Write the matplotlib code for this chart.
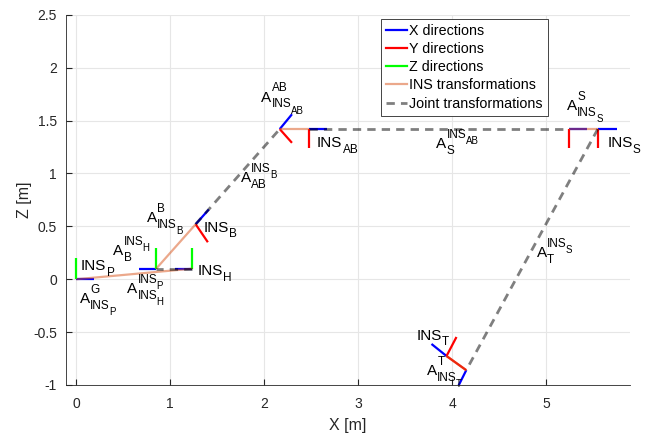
import matplotlib
matplotlib.use("Agg")
import matplotlib.pyplot as plt
from matplotlib.lines import Line2D

plt.rcParams['font.family'] = ['Liberation Sans', 'DejaVu Sans']

# frame origins in the X-Z plane
frame_names = ["INS_P", "B", "INS_H", "INS_B", "AB", "INS_AB", "S", "INS_S", "T", "INS_T"]
frame_x = [0.0, 0.85, 1.235, 1.27, 2.165, 2.48, 5.24, 5.55, 4.15, 3.94]
frame_z = [0.0, 0.10, 0.10, 0.52, 1.42, 1.42, 1.42, 1.42, -0.86, -0.726]
# projected axis directions (X axis, Y axis, Z axis)
ax_x = [(0.19, 0.0), (-0.18, 0.0), (-0.19, 0.0), (0.14, 0.14), (0.13, 0.14),
        (0.19, 0.0), (0.19, 0.0), (0.2, 0.0), (-0.09, -0.16), (-0.16, 0.114)]
ax_y = [(0.0, 0.0), (0.0, 0.0), (0.0, 0.0), (0.13, -0.17), (0.13, -0.13),
        (0.0, -0.18), (0.0, -0.18), (0.0, -0.18), (-0.21, 0.134), (0.106, 0.18)]
ax_z = [(0.0, 0.2), (0.0, 0.2), (0.0, 0.2), (0.0, 0.0), (0.0, 0.0),
        (0.0, 0.0), (0.0, 0.0), (0.0, 0.0), (0.0, 0.0), (0.0, 0.0)]

ins_links = [("INS_P", "INS_H"), ("B", "INS_B"), ("AB", "INS_AB"), ("S", "INS_S"), ("T", "INS_T")]
joint_links = [("INS_H", "B"), ("INS_B", "AB"), ("INS_AB", "S"), ("INS_S", "T")]

# labels: base, superscript (+ its subscript), subscript (+ its subscript)
label_base = ["INS", "A", "A", "A", "INS", "A", "INS", "A", "A", "INS", "A", "A", "INS", "A", "INS", "A"]
label_sup = ["", "G", "INS", "INS", "", "B", "", "INS", "AB", "", "INS", "S", "", "INS", "", "T"]
label_sup_sub = ["", "", "H", "P", "", "", "", "B", "", "", "AB", "", "", "S", "", ""]
label_sub = ["P", "INS", "B", "INS", "H", "INS", "B", "AB", "INS", "AB", "S", "INS", "S", "T", "T", "INS"]
label_sub_sub = ["", "P", "", "H", "", "B", "", "", "AB", "", "", "S", "", "", "", "T"]
label_x = [0.048, 0.037, 0.39, 0.54, 1.29, 0.75, 1.35, 1.75,
           1.97, 2.56, 3.83, 5.22, 5.65, 4.90, 3.62, 3.73]
label_z = [0.088, -0.224, 0.23, -0.13, 0.04, 0.54, 0.45, 0.92,
           1.68, 1.25, 1.24, 1.60, 1.25, 0.21, -0.57, -0.905]

fig = plt.figure(figsize=(6.54, 4.37), dpi=100)
ax = fig.add_axes([0.1009, 0.119, 0.862, 0.847])

lw = 1.6
ins_col = (0.85, 0.325, 0.098)
for i in range(len(frame_names)):
    x0, z0 = frame_x[i], frame_z[i]
    for vec, col in [(ax_x[i], 'b'), (ax_y[i], 'r'), (ax_z[i], (0, 1, 0))]:
        if vec == (0.0, 0.0):
            continue
        ax.plot([x0, x0 + vec[0]], [z0, z0 + vec[1]], color=col, lw=lw, solid_capstyle='butt')

for a, b in ins_links:
    i, j = frame_names.index(a), frame_names.index(b)
    ax.plot([frame_x[i], frame_x[j]], [frame_z[i], frame_z[j]], color=ins_col, alpha=0.5, lw=lw,
            solid_capstyle='butt')
for a, b in joint_links:
    i, j = frame_names.index(a), frame_names.index(b)
    ax.plot([frame_x[i], frame_x[j]], [frame_z[i], frame_z[j]], color='k', alpha=0.5, lw=lw + 0.4,
            linestyle=(0, (3, 2.2)), dash_capstyle='butt')

fs, fs_s, fs_ss = 11, 8.5, 7


def script(parent, txt, dx, dy, size):
    return ax.annotate(txt, xy=(1, 0), xycoords=parent, xytext=(dx, dy), textcoords='offset points',
                       fontsize=size, ha='left', va='baseline', annotation_clip=False, clip_on=False)


for k in range(len(label_base)):
    t = ax.text(label_x[k], label_z[k], label_base[k], fontsize=fs, ha='left', va='baseline',
                clip_on=False)
    if label_sup[k]:
        s = script(t, label_sup[k], 0.3, 9.5, fs_s)
        if label_sup_sub[k]:
            script(s, label_sup_sub[k], -0.6, -2.5, fs_ss)
    if label_sub[k]:
        s = script(t, label_sub[k], 0.3, -2.0, fs_s)
        if label_sub_sub[k]:
            script(s, label_sub_sub[k], -0.6, -2.5, fs_ss)

ax.set_xlim(-0.11, 5.89)
ax.set_ylim(-1, 2.5)
ax.set_xticks([0, 1, 2, 3, 4, 5])
ax.set_yticks([-1, -0.5, 0, 0.5, 1, 1.5, 2, 2.5])
ax.set_yticklabels(["-1", "-0.5", "0", "0.5", "1", "1.5", "2", "2.5"])
ax.grid(True, color=(0.9, 0.9, 0.9), lw=0.8)
ax.set_axisbelow(True)
ax.tick_params(direction='in', length=4, colors=(0.15, 0.15, 0.15), labelsize=10)
ax.tick_params(axis='x', pad=9)
ax.tick_params(axis='y', pad=6.5)
for s in ['top', 'right']:
    ax.spines[s].set_visible(False)
for s in ['left', 'bottom']:
    ax.spines[s].set_color((0.15, 0.15, 0.15))
    ax.spines[s].set_linewidth(0.6)
ax.set_xlabel("X [m]", fontsize=11.5, color=(0.15, 0.15, 0.15), labelpad=5)
ax.set_ylabel("Z [m]", fontsize=11.5, color=(0.15, 0.15, 0.15), labelpad=1)

handles = [Line2D([], [], color='b', lw=lw), Line2D([], [], color='r', lw=lw),
           Line2D([], [], color=(0, 1, 0), lw=lw), Line2D([], [], color=ins_col, alpha=0.5, lw=lw),
           Line2D([], [], color='k', alpha=0.5, lw=lw + 0.4, linestyle=(0, (3, 2.2)))]
leg = ax.legend(handles, ["X directions", "Y directions", "Z directions", "INS transformations",
                          "Joint transformations"],
                loc='upper right', bbox_to_anchor=(0.855, 0.99), fontsize=10.3, fancybox=False,
                framealpha=1, edgecolor=(0.15, 0.15, 0.15), handlelength=1.5, handletextpad=0.15,
                labelspacing=0.3, borderpad=0.35, borderaxespad=0)
leg.get_frame().set_linewidth(0.6)

fig.savefig("out.png", dpi=100)
